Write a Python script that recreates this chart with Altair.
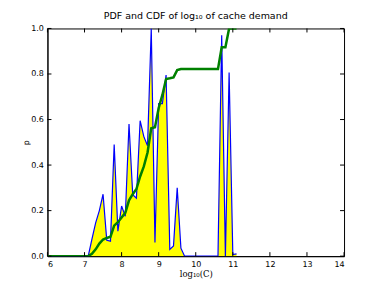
import altair as alt
import pandas as pd

# bin centres of log10(C)
xs = [6.0, 7.1, 7.2, 7.3, 7.4, 7.5, 7.6, 7.7, 7.8, 7.9, 8.0, 8.1, 8.2, 8.3, 8.4,
      8.5, 8.6, 8.7, 8.8, 8.9, 9.0, 9.1, 9.2, 9.3, 9.4, 9.5, 9.6, 9.7, 10.6, 10.7,
      10.8, 10.9, 11.0, 11.1]
# PDF (normalised) values
pdf = [0.0, 0.0, 0.075, 0.146, 0.2, 0.272, 0.07, 0.066, 0.49, 0.11, 0.22, 0.175,
       0.58, 0.27, 0.255, 0.595, 0.525, 0.485, 1.0, 0.06, 0.67, 0.67, 0.795, 0.03,
       0.045, 0.30, 0.035, 0.0, 0.0, 0.97, 0.0, 0.806, 0.007, 0.01]
# CDF values
cdf = [0.0, 0.0, 0.01, 0.03, 0.055, 0.073, 0.08, 0.085, 0.134, 0.149, 0.17, 0.19,
       0.245, 0.272, 0.295, 0.35, 0.394, 0.455, 0.562, 0.566, 0.65, 0.708, 0.778,
       0.781, 0.785, 0.817, 0.822, 0.822, 0.822, 0.917, 0.917, 1.0, 1.0, 1.0]

x_ticks = [6, 7, 8, 9, 10, 11, 12, 13, 14]
y_ticks = [0.0, 0.2, 0.4, 0.6, 0.8, 1.0]

W, H = 297, 228

df = pd.DataFrame({"x": xs, "pdf": pdf, "cdf": cdf})
xt = pd.DataFrame({"x": x_ticks})
yt = pd.DataFrame({"y": y_ticks})

xscale = alt.Scale(domain=[6, 14], nice=False, zero=False)
yscale = alt.Scale(domain=[0, 1], nice=False)
common = dict(grid=False, ticks=False, tickSize=0, labelFont="DejaVu Sans",
              labelFontSize=8, labelColor="black", titleColor="black",
              domainColor="black", labelPadding=4)
xaxis = alt.Axis(values=x_ticks, format="d", title="log₁₀(C)",
                 titleFont="DejaVu Serif", titleFontSize=8.5,
                 titleFontWeight="normal", titlePadding=1, **common)
yaxis = alt.Axis(values=y_ticks, format=".1f", title="p", titleFont="DejaVu Sans",
                 titleFontSize=8, titleFontWeight="normal", titlePadding=0,
                 **common)

base = alt.Chart(df)

area = base.mark_area(color="#ffff00", opacity=1, clip=True).encode(
    x=alt.X("x:Q", scale=xscale, axis=xaxis),
    y=alt.Y("pdf:Q", scale=yscale, axis=yaxis),
)
pdf_line = base.mark_line(color="#0000ff", strokeWidth=1.2, clip=True).encode(
    x=alt.X("x:Q", scale=xscale, axis=xaxis),
    y=alt.Y("pdf:Q", scale=yscale, axis=yaxis),
)
cdf_line = base.mark_line(color="#008000", strokeWidth=2.5, clip=True).encode(
    x=alt.X("x:Q", scale=xscale, axis=xaxis),
    y=alt.Y("cdf:Q", scale=yscale, axis=yaxis),
)

tick_style = dict(color="black", strokeWidth=1)
xb = alt.Chart(xt).mark_rule(**tick_style).encode(
    x=alt.X("x:Q", scale=xscale, axis=xaxis), y=alt.value(H), y2=alt.value(H - 4))
xtop = alt.Chart(xt).mark_rule(**tick_style).encode(
    x=alt.X("x:Q", scale=xscale, axis=xaxis), y=alt.value(0), y2=alt.value(4))
yl = alt.Chart(yt).mark_rule(**tick_style).encode(
    y=alt.Y("y:Q", scale=yscale, axis=yaxis), x=alt.value(0), x2=alt.value(4))
yr = alt.Chart(yt).mark_rule(**tick_style).encode(
    y=alt.Y("y:Q", scale=yscale, axis=yaxis), x=alt.value(W), x2=alt.value(W - 4))

chart = alt.layer(area, pdf_line, cdf_line, xb, xtop, yl, yr).properties(
    width=W, height=H,
    title=alt.TitleParams("PDF and CDF of log₁₀ of cache demand",
                          font="DejaVu Sans", fontSize=9.5, fontWeight="normal",
                          offset=4, anchor="middle", color="black"),
    autosize=alt.AutoSizeParams(type="none"),
    padding={"left": 39.5, "top": 20.3, "right": 30, "bottom": 30},
    background="white",
).configure_view(stroke="black", strokeWidth=1)

chart.save("out.html", embed_options={"renderer": "svg", "actions": False})
